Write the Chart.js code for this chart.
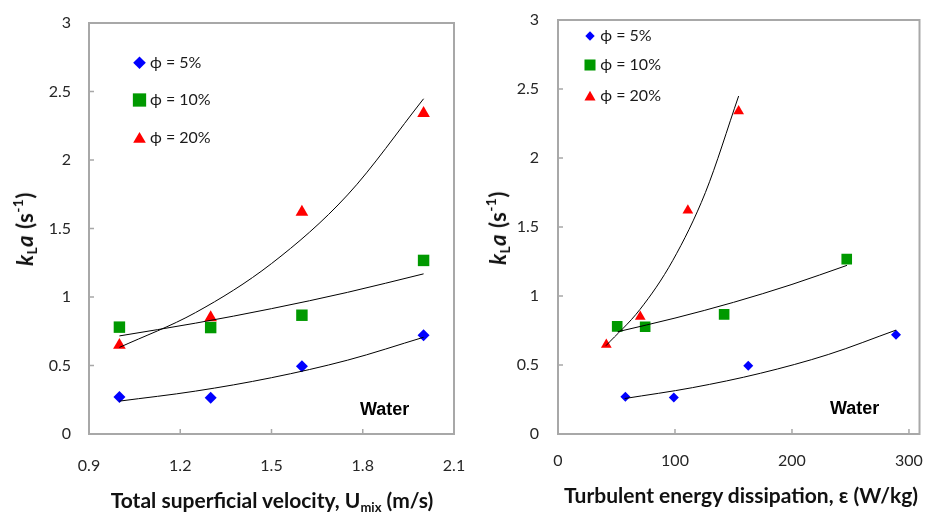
<!DOCTYPE html>
<html>
<head>
<meta charset="utf-8">
<script src="https://cdn.jsdelivr.net/npm/chart.js@4.4.1/dist/chart.umd.min.js"></script>
<style>
  body { margin: 0; background: #fff; }
  #wrap { position: relative; width: 927px; height: 512px; overflow: hidden; font-family: Lato, "Open Sans", sans-serif; }
  .panel { position: absolute; top: 0; height: 512px; }
  .title { position: absolute; font-weight: bold; font-size: 21px; line-height: 1; color: #111; white-space: nowrap; }
  .xtitle { transform: translateX(-50%); }
  .ytitle { font-size: 22px; letter-spacing: 0.5px; transform: translate(-50%, -50%) rotate(-90deg); }
  .title sub { font-size: 62%; vertical-align: -0.3em; line-height: 0; }
  .title sup { font-size: 62%; vertical-align: 0.7em; line-height: 0; }
</style>
</head>
<body>
<div id="wrap">
  <div class="panel" style="left:0;width:467px"><canvas id="chartVel"></canvas></div>
  <div class="panel" style="left:467px;width:460px"><canvas id="chartEps"></canvas></div>
  <div class="title xtitle" style="left:272px;top:489px">Total superficial velocity, U<sub>mix</sub> (m/s)</div>
  <div class="title xtitle" style="left:741px;top:484px">Turbulent energy dissipation, ε (W/kg)</div>
  <div class="title ytitle" style="left:25px;top:229px"><i>k</i><sub>L</sub><i>a</i> (s<sup>-1</sup>)</div>
  <div class="title ytitle" style="left:498px;top:228px"><i>k</i><sub>L</sub><i>a</i> (s<sup>-1</sup>)</div>
</div>
<script>
// kLa measured for three dispersed phase fractions
const seriesLabels = ["ϕ = 5%", "ϕ = 10%", "ϕ = 20%"];
const seriesColors = ["#0000ff", "#009900", "#ff0000"];
const seriesStyles = ["rectRot", "rect", "triangle"];

const kla5 = [0.27, 0.265, 0.495, 0.72];
const kla10 = [0.78, 0.777, 0.867, 1.267];
const kla20 = [0.648, 0.85, 1.62, 2.34];

// mixture velocity (m/s), same for every fraction
const umix = [1.0, 1.3, 1.6, 2.0];
// energy dissipation (W/kg) for each fraction
const eps5 = [57.6, 99, 162.6, 288.9];
const eps10 = [50.6, 74.5, 142, 246.8];
const eps20 = [41.3, 70.3, 111, 154.4];

// exponential trend lines
const trendUmix = [1.0, 1.25, 1.5, 1.75, 2.0];
const trendUmix5 = [0.24, 0.313, 0.411, 0.539, 0.706];
const trendUmix10 = [0.716, 0.809, 0.915, 1.034, 1.169];
const trendUmix20 = [0.632, 0.886, 1.244, 1.745, 2.447];

const trendEps5x = [57, 115, 173, 231, 289];
const trendEps5 = [0.257, 0.336, 0.44, 0.576, 0.753];
const trendEps10x = [51, 100, 150, 200, 247];
const trendEps10 = [0.741, 0.84, 0.954, 1.084, 1.222];
const trendEps20x = [41, 70, 98, 126, 154.4];
const trendEps20 = [0.64, 0.902, 1.256, 1.75, 2.449];

const klaTicks = [0, 0.5, 1, 1.5, 2, 2.5, 3];
const umixTicks = [0.9, 1.2, 1.5, 1.8, 2.1];
const epsTicks = [0, 100, 200, 300];

const FONT = "Lato, 'Open Sans', sans-serif";
const AXIS_GREY = "#a8a8a8";

function pts(xs, ys) {
  return xs.map((x, i) => ({ x: x, y: ys[i] }));
}

// box round the plot area, inside tick marks, legend and note
const panelDecor = {
  id: "panelDecor",
  beforeDatasetsDraw(chart) {
    const { ctx, chartArea: a, scales } = chart;
    ctx.save();
    ctx.strokeStyle = AXIS_GREY;
    ctx.lineWidth = 2;
    ctx.strokeRect(a.left, a.top, a.right - a.left, a.bottom - a.top);
    ctx.lineWidth = 1.5;
    ctx.beginPath();
    scales.x.ticks.forEach(t => {
      const px = scales.x.getPixelForValue(t.value);
      ctx.moveTo(px, a.bottom);
      ctx.lineTo(px, a.bottom - 5);
    });
    scales.y.ticks.forEach(t => {
      const py = scales.y.getPixelForValue(t.value);
      ctx.moveTo(a.left, py);
      ctx.lineTo(a.left + 5, py);
    });
    ctx.stroke();
    ctx.restore();
  },
  afterDraw(chart, args, opts) {
    const { ctx, chartArea: a } = chart;
    ctx.save();
    ctx.font = "16px " + FONT;
    ctx.textBaseline = "middle";
    seriesLabels.forEach((label, i) => {
      const y = a.top + opts.rows[i];
      ctx.fillStyle = seriesColors[i];
      Chart.helpers.drawPoint(ctx, { pointStyle: seriesStyles[i], radius: opts.radii[i], rotation: 0, borderWidth: 0 },
        a.left + opts.markerX, y + (seriesStyles[i] === "triangle" ? 1.5 : 0));
      ctx.fillStyle = "#1a1a1a";
      ctx.fillText(label, a.left + opts.textX, y);
    });
    ctx.font = "bold 18px 'Liberation Sans', Arial, sans-serif";
    ctx.textBaseline = "alphabetic";
    ctx.fillStyle = "#000";
    ctx.fillText("Water", a.left + opts.noteX, a.top + opts.noteY);
    ctx.restore();
  }
};

function trend(data) {
  return {
    data: data, showLine: true, pointRadius: 0, borderColor: "#000", borderWidth: 1,
    cubicInterpolationMode: "monotone", fill: false
  };
}

function marks(i, data, radius) {
  return {
    label: seriesLabels[i], data: data, showLine: false,
    pointStyle: seriesStyles[i], pointRadius: radius[i],
    backgroundColor: seriesColors[i], borderColor: seriesColors[i], borderWidth: 0
  };
}

function makePanel(id, p) {
  return new Chart(document.getElementById(id), {
    type: "scatter",
    data: { datasets: p.datasets },
    plugins: [panelDecor],
    options: {
      responsive: true,
      maintainAspectRatio: false,
      animation: false,
      layout: { padding: p.padding },
      plugins: {
        legend: { display: false },
        tooltip: { enabled: false },
        panelDecor: p.decor
      },
      scales: {
        x: {
          type: "linear", min: p.xMin, max: p.xMax,
          grid: { display: false, drawTicks: false }, border: { display: false },
          ticks: { padding: p.xPad, color: "#262626", font: { family: FONT, size: 16 }, callback: p.xFormat },
          afterBuildTicks: s => { s.ticks = p.xTicks.map(v => ({ value: v })); },
          afterFit: s => { s.height = p.xHeight; s.paddingLeft = 0; s.paddingRight = 0; }
        },
        y: {
          type: "linear", min: 0, max: 3,
          grid: { display: false, drawTicks: false }, border: { display: false },
          ticks: { padding: p.yPad, color: "#262626", font: { family: FONT, size: 16 }, callback: v => String(v) },
          afterBuildTicks: s => { s.ticks = klaTicks.map(v => ({ value: v })); },
          afterFit: s => { s.width = p.yWidth; s.paddingTop = 0; s.paddingBottom = 0; }
        }
      }
    }
  });
}

const velRadius = [6, 8.1, 7.3];
makePanel("chartVel", {
  datasets: [
    trend(pts(trendUmix, trendUmix5)),
    trend(pts(trendUmix, trendUmix10)),
    trend(pts(trendUmix, trendUmix20)),
    marks(0, pts(umix, kla5), velRadius),
    marks(1, pts(umix, kla10), velRadius),
    marks(2, pts(umix, kla20), velRadius)
  ],
  padding: { top: 23, right: 13, bottom: 0, left: 0 },
  xMin: 0.9, xMax: 2.1, xTicks: umixTicks, xFormat: v => v.toFixed(1),
  xPad: 22, xHeight: 78, yPad: 18, yWidth: 89,
  decor: { markerX: 50.5, textX: 61, rows: [39.7, 77, 114.7], radii: [6.3, 9.4, 7.3], noteX: 271, noteY: 392 }
});

const epsRadius = [5, 7.5, 6.2];
makePanel("chartEps", {
  datasets: [
    trend(pts(trendEps5x, trendEps5)),
    trend(pts(trendEps10x, trendEps10)),
    trend(pts(trendEps20x, trendEps20)),
    marks(0, pts(eps5, kla5), epsRadius),
    marks(1, pts(eps10, kla10), epsRadius),
    marks(2, pts(eps20, kla20), epsRadius)
  ],
  padding: { top: 20, right: 4, bottom: 0, left: 0 },
  xMin: 0, xMax: 309, xTicks: epsTicks, xFormat: v => String(v),
  xPad: 17, xHeight: 78, yPad: 19, yWidth: 91,
  decor: { markerX: 32, textX: 42.3, rows: [16, 45, 75.7], radii: [4.7, 7.8, 6.4], noteX: 272, noteY: 394 }
});
</script>
</body>
</html>
